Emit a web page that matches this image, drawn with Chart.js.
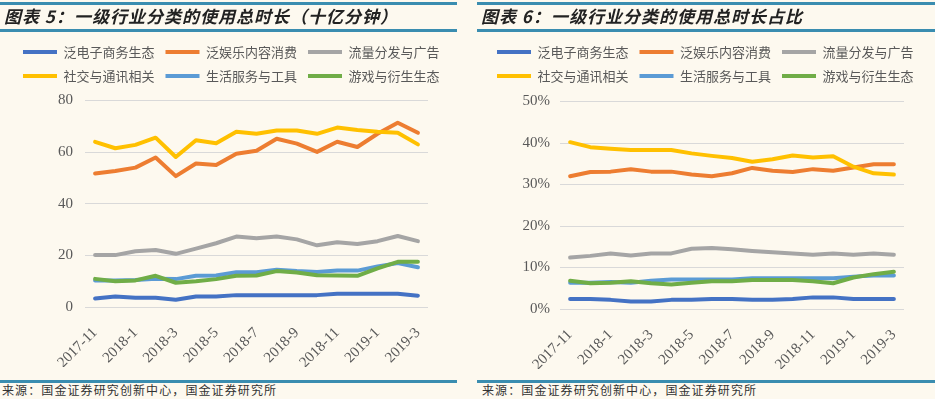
<!DOCTYPE html>
<html><head><meta charset="utf-8">
<script src="https://cdn.jsdelivr.net/npm/chart.js@4/dist/chart.umd.min.js"></script>
<style>
html,body{margin:0;padding:0;background:#FDF9EF;}
body{width:935px;height:399px;position:relative;overflow:hidden;font-family:"Noto Sans CJK SC",sans-serif;}
.panel{position:absolute;top:0;height:399px;}
.rule{position:absolute;left:0;right:0;height:3px;background:#3A8DB0;}
.title{position:absolute;top:3px;left:4px;font-size:17px;line-height:26px;font-weight:700;font-style:italic;color:#222;letter-spacing:1px;white-space:nowrap;}
.src{position:absolute;top:382px;left:2px;font-size:12px;line-height:16px;color:#333;letter-spacing:1.1px;white-space:nowrap;}
canvas{position:absolute;top:0;left:0;}
</style></head>
<body>
<div class="panel" style="left:0;width:457px;">
  <canvas id="c1" width="457" height="367"></canvas>
  <div class="rule" style="top:2px"></div>
  <div class="title">图表 5：一级行业分类的使用总时长（十亿分钟）</div>
  <div class="rule" style="top:29px"></div>
  <div class="rule" style="top:380px"></div>
  <div class="src">来源：国金证券研究创新中心，国金证券研究所</div>
</div>
<div class="panel" style="left:477px;width:458px;">
  <canvas id="c2" width="458" height="369"></canvas>
  <div class="rule" style="top:2px"></div>
  <div class="title" style="left:4px">图表 6：一级行业分类的使用总时长占比</div>
  <div class="rule" style="top:29px"></div>
  <div class="rule" style="top:380px"></div>
  <div class="src" style="left:5px">来源：国金证券研究创新中心，国金证券研究所</div>
</div>
<script>
const months = ["2017-11","2017-12","2018-1","2018-2","2018-3","2018-4","2018-5","2018-6","2018-7","2018-8","2018-9","2018-10","2018-11","2018-12","2019-1","2019-2","2019-3"];
const seriesNames = ["泛电子商务生态","泛娱乐内容消费","流量分发与广告","社交与通讯相关","生活服务与工具","游戏与衍生生态"];
const seriesColors = ["#4472C4","#ED7D31","#A5A5A5","#FFC000","#5B9BD5","#70AD47"];

// 图表5: 使用总时长（十亿分钟）
const ecommerceTime = [3.3,4.1,3.6,3.6,2.8,4.1,4.1,4.6,4.6,4.6,4.6,4.6,5.1,5.1,5.1,5.1,4.4];
const entertainTime = [51.7,52.7,54.0,57.9,50.7,55.6,55.0,59.4,60.5,65.2,63.3,60.1,64.0,62.0,67.1,71.4,67.5];
const trafficAdTime = [20.1,20.1,21.6,22.1,20.6,22.6,24.7,27.3,26.6,27.3,26.2,23.9,25.1,24.4,25.5,27.5,25.5];
const socialTime    = [64.0,61.5,62.8,65.6,58.1,64.6,63.4,67.9,67.1,68.4,68.4,67.1,69.5,68.6,67.9,67.5,63.0];
const lifeToolTime  = [10.3,10.3,10.5,10.9,10.8,12.1,12.2,13.5,13.5,14.4,13.9,13.6,14.1,14.1,15.7,17.0,15.4];
const gameTime      = [10.9,10.0,10.3,12.1,9.4,10.0,10.8,12.1,12.2,13.9,13.4,12.3,12.2,12.1,15.0,17.5,17.5];

// 图表6: 使用总时长占比（%）
const ecommerceShare = [2.4,2.4,2.2,1.8,1.8,2.2,2.2,2.4,2.4,2.2,2.2,2.4,2.8,2.8,2.4,2.4,2.4];
const entertainShare = [32.0,33.0,33.1,33.7,33.1,33.1,32.4,32.0,32.7,34.0,33.3,33.0,33.7,33.3,34.1,34.9,34.9];
const trafficAdShare = [12.4,12.8,13.4,12.9,13.4,13.4,14.5,14.7,14.4,14.0,13.7,13.4,13.1,13.4,13.1,13.4,13.1];
const socialShare    = [40.2,39.0,38.6,38.3,38.3,38.3,37.5,36.9,36.4,35.5,36.1,37.0,36.5,36.8,34.3,32.7,32.4];
const lifeToolShare  = [6.3,6.3,6.5,6.3,6.8,7.1,7.1,7.1,7.1,7.4,7.4,7.4,7.4,7.4,7.8,8.1,8.1];
const gameShare      = [6.8,6.2,6.3,6.7,6.2,5.9,6.3,6.7,6.7,7.0,7.0,7.0,6.7,6.2,7.6,8.4,9.0];

const timeTicks = [0,20,40,60,80];
const shareTicks = [0,10,20,30,40,50];

function makeDatasets(arrs){
  return arrs.map((d,i)=>({
    label: seriesNames[i], data: d,
    borderColor: seriesColors[i], backgroundColor: seriesColors[i],
    borderWidth: 4, pointRadius: 0, tension: 0,
    borderCapStyle: 'round', borderJoinStyle: 'round',
    order: arrs.length - i
  }));
}

function makeChart(id, arrs, cfg){
  const tickFont = {family: '"Liberation Serif", serif', size: 15};
  return new Chart(document.getElementById(id), {
    type: 'line',
    data: {labels: months, datasets: makeDatasets(arrs)},
    options: {
      responsive: false, animation: false,
      layout: {padding: {top: 34.5, left: cfg.padL, right: cfg.padR, bottom: 0}},
      plugins: {
        tooltip: {enabled: false},
        legend: {
          position: 'top', align: 'center',
          labels: {
            usePointStyle: true, pointStyle: 'line', pointStyleWidth: 34,
            padding: 11, color: '#595959',
            font: {family: '"Noto Sans CJK SC", sans-serif', size: 13},
            sort: (a,b) => a.datasetIndex - b.datasetIndex
          }
        }
      },
      scales: {
        x: {
          type: 'category', offset: true,
          grid: {display: false}, border: {display: false},
          ticks: {
            autoSkip: false, minRotation: 45, maxRotation: 45, padding: 9,
            color: '#595959', font: tickFont,
            callback: function(v, i){ return i % 2 === 0 ? this.getLabelForValue(v) : null; }
          },
          afterFit: s => { s.height = 60; }
        },
        xTop: {
          type: 'linear', axis: 'x', position: 'top', display: true,
          grid: {display: false}, border: {display: false}, ticks: {display: false},
          afterFit: s => { s.height = cfg.topGap; }
        },
        y: {
          min: cfg.min, max: cfg.max,
          afterBuildTicks: s => { s.ticks = cfg.ticks.map(v => ({value: v})); },
          grid: {color: '#D9D9D9', lineWidth: 1, drawTicks: false},
          border: {display: false},
          ticks: {padding: cfg.yPad, color: '#595959', font: tickFont, callback: cfg.fmt},
          afterFit: s => { s.width = cfg.yWidth; }
        },
        yRight: {
          type: 'linear', position: 'right', display: true,
          grid: {display: false}, border: {display: false}, ticks: {display: false},
          afterFit: s => { s.width = cfg.rightGap; }
        }
      }
    }
  });
}

makeChart('c1', [ecommerceTime, entertainTime, trafficAdTime, socialTime, lifeToolTime, gameTime], {
  padL: 8.5, padR: 3, yWidth: 76.5, rightGap: 26, topGap: 8, min: 0, max: 80, ticks: timeTicks, yPad: 12,
  fmt: v => String(v)
});
makeChart('c2', [ecommerceShare, entertainShare, trafficAdShare, socialShare, lifeToolShare, gameShare], {
  padL: 4.5, padR: 6, yWidth: 78.5, rightGap: 25, topGap: 9, min: 0, max: 50, ticks: shareTicks, yPad: 10,
  fmt: v => v + '%'
});
</script>
</body></html>
